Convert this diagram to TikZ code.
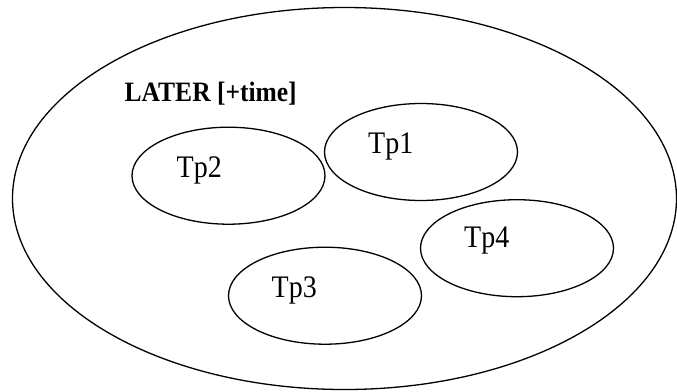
\documentclass[tikz,border=0pt]{standalone}
\usepackage{fontspec}
\setmainfont{Liberation Serif}
\usetikzlibrary{shapes.geometric}
\begin{document}
\begin{tikzpicture}[x=1pt,y=-1pt,
    ring/.style={draw=black, line width=1.3pt, ellipse, inner sep=0pt},
    setring/.style={ring, minimum width=193pt, minimum height=97pt},
    tplabel/.style={anchor=base west, inner sep=0pt, font=\fontsize{28}{31}\selectfont},
    titlelabel/.style={anchor=base west, inner sep=0pt, font=\fontsize{25.5}{28}\selectfont\bfseries}]
  \useasboundingbox (0,0) rectangle (677,391);
  \begin{scope}
    \clip (0,0) rectangle (677,391);
    % outer set
    \node[ring, minimum width=664pt, minimum height=382pt] (later) at (344.5,198.5) {};
  \end{scope}
  \node[titlelabel] (title) at (124.5,101.7) {\scalebox{1}[1.1]{LATER [+time]}};
  % inner sets
  \node[setring] (e1) at (421,152) {};
  \node[setring] (e2) at (228.5,175.7) {};
  \node[setring] (e3) at (325,295.7) {};
  \node[setring] (e4) at (517,248.2) {};
  \node[tplabel] (t1) at (368,153.3) {\scalebox{1}[1.12]{Tp1}};
  \node[tplabel] (t2) at (176.5,177.3) {\scalebox{1}[1.12]{Tp2}};
  \node[tplabel] (t3) at (271.5,297.3) {\scalebox{1}[1.12]{Tp3}};
  \node[tplabel] (t4) at (464,247.7) {\scalebox{1}[1.12]{Tp4}};
\end{tikzpicture}
\end{document}
